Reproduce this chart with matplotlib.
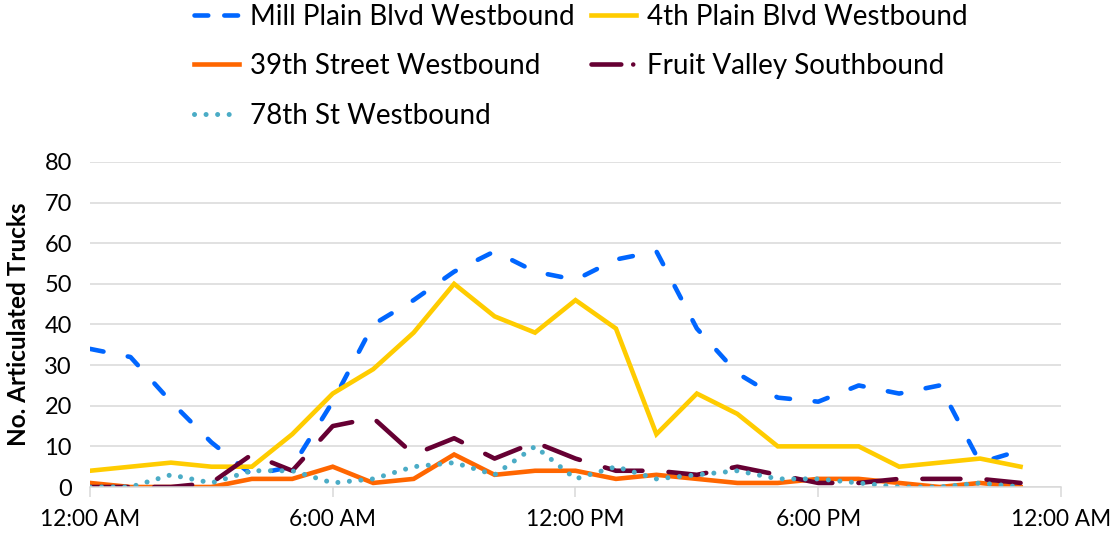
import matplotlib
matplotlib.use("Agg")
import matplotlib.pyplot as plt
from matplotlib.lines import Line2D

plt.rcParams["font.family"] = ["Lato", "DejaVu Sans"]

# hourly counts, hour 0..23
hours = list(range(24))
mill_plain = [34, 32, 21, 11, 3, 5, 21, 40, 46, 53, 58, 53, 51, 56, 58, 39,
              28, 22, 21, 25, 23, 25, 6, 9]
fourth_plain = [4, 5, 6, 5, 5, 13, 23, 29, 38, 50, 42, 38, 46, 39, 13, 23,
                18, 10, 10, 10, 5, 6, 7, 5]
street_39th = [1, 0, 0, 0, 2, 2, 5, 1, 2, 8, 3, 4, 4, 2, 3, 2,
               1, 1, 2, 2, 1, 0, 1, 0]
fruit_valley = [0, 0, 0, 1, 8, 4, 15, 17, 8, 12, 7, 11, 7, 4, 4, 3,
                5, 3, 1, 1, 2, 2, 2, 1]
st_78th = [0, 0, 3, 1, 4, 4, 1, 2, 5, 6, 3, 10, 2, 5, 2, 3,
           4, 2, 2, 1, 0, 0, 1, 0]

names = ["Mill Plain Blvd Westbound", "4th Plain Blvd Westbound",
         "39th Street Westbound", "Fruit Valley Southbound",
         "78th St Westbound"]
x_ticks = [0, 6, 12, 18, 24]
x_labels = ["12:00 AM", "6:00 AM", "12:00 PM", "6:00 PM", "12:00 AM"]

fig = plt.figure(figsize=(11.11, 5.36), dpi=100)
ax = fig.add_axes([0.081, 0.0914, 0.874, 0.6064])

lw = 3.3
l_mill, = ax.plot(hours, mill_plain, color="#0066ff", lw=lw,
                  linestyle=(0, (3, 5.4)), dash_capstyle="round")
l_4th, = ax.plot(hours, fourth_plain, color="#ffcc00", lw=lw,
                 solid_joinstyle="miter")
l_39, = ax.plot(hours, street_39th, color="#ff6600", lw=lw,
                solid_joinstyle="miter")
l_fv, = ax.plot(hours, fruit_valley, color="#660033", lw=lw,
                linestyle=(0, (8.3, 5.7)), dash_capstyle="round")
l_78, = ax.plot(hours, st_78th, color="#4bacc6", lw=3.6,
                linestyle=(0, (0.01, 2.3)), dash_capstyle="round")

ax.set_xlim(0, 24)
ax.set_ylim(0, 80)
ax.set_yticks(range(0, 81, 10))
ax.set_xticks(x_ticks)
ax.set_xticklabels(x_labels)
ax.grid(True, axis="y", color="#d9d9d9", linewidth=1.1)
ax.set_axisbelow(True)
for side in ("top", "right", "left"):
    ax.spines[side].set_visible(False)
ax.spines["bottom"].set_color("#d9d9d9")
ax.spines["bottom"].set_linewidth(1.1)
ax.tick_params(axis="x", direction="out", length=7, color="#d9d9d9",
               width=1.1, labelsize=16.3, pad=9)
ax.tick_params(axis="y", length=0, labelsize=17, pad=13)
ax.set_ylabel("No. Articulated Trucks", fontsize=17.5, fontweight="bold",
              labelpad=10)

# legend in Excel row order
mill_handle = Line2D([], [], color="#0066ff", lw=lw,
                     linestyle=(0, (3, 3.5)), dash_capstyle="round")
fv_handle = Line2D([], [], color="#660033", lw=lw,
                   linestyle=(0, (6.5, 2.6, 0.01, 2.6)), dash_capstyle="round")
handles = [mill_handle, l_39, l_78, l_4th, fv_handle]
labels = [names[0], names[2], names[4], names[1], names[3]]
fig.legend(handles, labels, ncol=2, loc="upper left",
           bbox_to_anchor=(0.165, 1.014), frameon=False, fontsize=20,
           handlelength=1.6, handletextpad=0.4, columnspacing=0.6,
           labelspacing=0.85, borderaxespad=0)

fig.savefig("out.png", dpi=100)
